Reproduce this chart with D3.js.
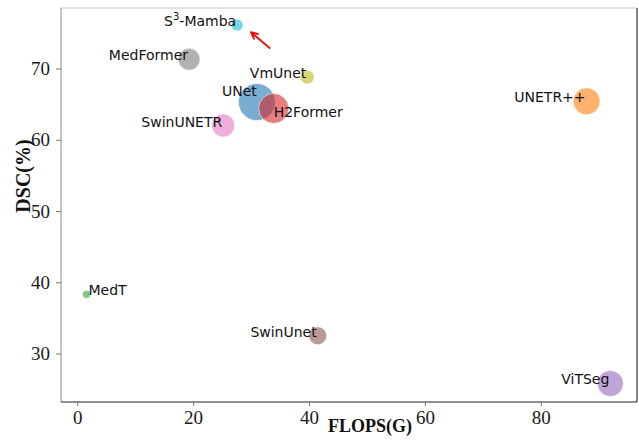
<!DOCTYPE html>
<html>
<head>
<meta charset="utf-8">
<script src="https://cdn.jsdelivr.net/npm/d3@7"></script>
<style>
  html, body { margin: 0; padding: 0; background: #fff; }
  svg { display: block; }
</style>
</head>
<body>
<div id="chart"></div>
<script>
// Models, compute cost and accuracy
const models = ['UNet', 'UNETR++', 'MedT', 'H2Former', 'ViTSeg', 'SwinUnet', 'SwinUNETR', 'MedFormer', 'VmUnet', 'S3-Mamba'];
const flops = [31.0, 87.9, 1.6, 33.9, 92.0, 41.5, 25.2, 19.3, 39.7, 27.6];
const dsc = [65.3, 65.4, 38.3, 64.4, 25.8, 32.5, 62.0, 71.3, 68.8, 76.1];
// bubble size (marker area)
const bubbleSize = [342, 182, 16, 225, 169, 81, 132, 121, 49, 36];

const xTicks = [0, 20, 40, 60, 80];
const yTicks = [30, 40, 50, 60, 70];

// arrow pointing at S3-Mamba: [flops, dsc]
const arrowFrom = [33.2, 72.9];
const arrowTo = [30.0, 75.1];

const width = 639;
const height = 443;
const plot = { left: 61, right: 637, top: 8, bottom: 402 };
const serif = '"Liberation Serif", "Times New Roman", serif';

const svg = d3.select('#chart')
  .append('svg')
  .attr('width', width)
  .attr('height', height);

const x = d3.scaleLinear().domain([-2.8, 96.6]).range([plot.left, plot.right]);
const y = d3.scaleLinear().domain([23.2, 78.5]).range([plot.bottom, plot.top]);
const r = d3.scaleSqrt().domain([0, 400]).range([0, 20]);
const color = d3.scaleOrdinal().domain(models).range(d3.schemeCategory10);

// spines
svg.append('line').attr('x1', plot.left).attr('x2', plot.right).attr('y1', plot.top).attr('y2', plot.top)
  .attr('stroke', '#c4c4c4');
svg.append('line').attr('x1', plot.left).attr('x2', plot.left).attr('y1', plot.top).attr('y2', plot.bottom)
  .attr('stroke', '#8a8a8a');
svg.append('line').attr('x1', plot.right).attr('x2', plot.right).attr('y1', plot.top).attr('y2', plot.bottom)
  .attr('stroke', '#111');

// axes
const xAxis = svg.append('g')
  .attr('transform', `translate(0,${plot.bottom})`)
  .call(d3.axisBottom(x).tickValues(xTicks).tickSize(4).tickPadding(5));
const yAxis = svg.append('g')
  .attr('transform', `translate(${plot.left},0)`)
  .call(d3.axisLeft(y).tickValues(yTicks).tickSize(5).tickPadding(6));

xAxis.select('.domain').attr('stroke', '#222').attr('d', `M${plot.left},0H${plot.right}`);
yAxis.select('.domain').remove();
[xAxis, yAxis].forEach(g => {
  g.attr('font-family', serif).attr('font-size', 19);
  g.selectAll('.tick line').attr('stroke', '#777');
  g.selectAll('.tick text')
    .style('font-family', serif)
    .style('font-size', '19px')
    .attr('fill', '#1a1a1a');
});

// axis titles
svg.append('text')
  .attr('x', 370).attr('y', 432)
  .attr('text-anchor', 'middle')
  .style('font-family', serif)
  .style('font-weight', 'bold')
  .style('font-size', '18px')
  .attr('fill', '#111')
  .text('FLOPS(G)');
svg.append('text')
  .attr('transform', 'translate(30,176) rotate(-90)')
  .attr('text-anchor', 'middle')
  .style('font-family', serif)
  .style('font-weight', 'bold')
  .style('font-size', '20px')
  .attr('fill', '#111')
  .text('DSC(%)');

// bubbles
const data = models.map((m, i) => ({ name: m, fx: flops[i], dy: dsc[i], s: bubbleSize[i] }));

svg.append('g')
  .selectAll('circle')
  .data(data)
  .join('circle')
  .attr('cx', d => x(d.fx))
  .attr('cy', d => y(d.dy))
  .attr('r', d => r(d.s))
  .attr('fill', d => color(d.name))
  .attr('fill-opacity', 0.6)
  .attr('stroke', '#fff')
  .attr('stroke-opacity', 0.6)
  .attr('stroke-width', 1);

// labels: most sit left of the bubble, a few are nudged
const labelAnchor = { MedT: 'start', H2Former: 'start' };
const labelShift = { UNet: [0, -7], H2Former: [0, 8], MedT: [2, 0] };

const labels = svg.append('g')
  .selectAll('text')
  .data(data)
  .join('text')
  .attr('x', d => x(d.fx) + (labelShift[d.name] ? labelShift[d.name][0] : -1))
  .attr('y', d => y(d.dy) + 1 + (labelShift[d.name] ? labelShift[d.name][1] : 0))
  .attr('text-anchor', d => labelAnchor[d.name] || 'end')
  .style('font-family', '"DejaVu Sans", sans-serif')
  .style('font-size', '14px')
  .attr('fill', '#111');

labels.each(function (d) {
  const t = d3.select(this);
  if (d.name === 'S3-Mamba') {
    t.append('tspan').text('S');
    t.append('tspan').attr('dy', -6).style('font-size', '10px').text('3');
    t.append('tspan').attr('dy', 6).text('-Mamba');
  } else {
    t.text(d.name);
  }
});

// red arrow
const ax0 = x(arrowFrom[0]), ay0 = y(arrowFrom[1]);
const ax1 = x(arrowTo[0]), ay1 = y(arrowTo[1]);
const ang = Math.atan2(ay1 - ay0, ax1 - ax0);
const head = 7;
svg.append('path')
  .attr('d', `M${ax0},${ay0}L${ax1},${ay1}` +
    `M${ax1 - head * Math.cos(ang - 0.45)},${ay1 - head * Math.sin(ang - 0.45)}L${ax1},${ay1}` +
    `L${ax1 - head * Math.cos(ang + 0.45)},${ay1 - head * Math.sin(ang + 0.45)}`)
  .attr('fill', 'none')
  .attr('stroke', '#e8140c')
  .attr('stroke-width', 2)
  .attr('stroke-linecap', 'round')
  .attr('stroke-linejoin', 'round');
</script>
</body>
</html>
